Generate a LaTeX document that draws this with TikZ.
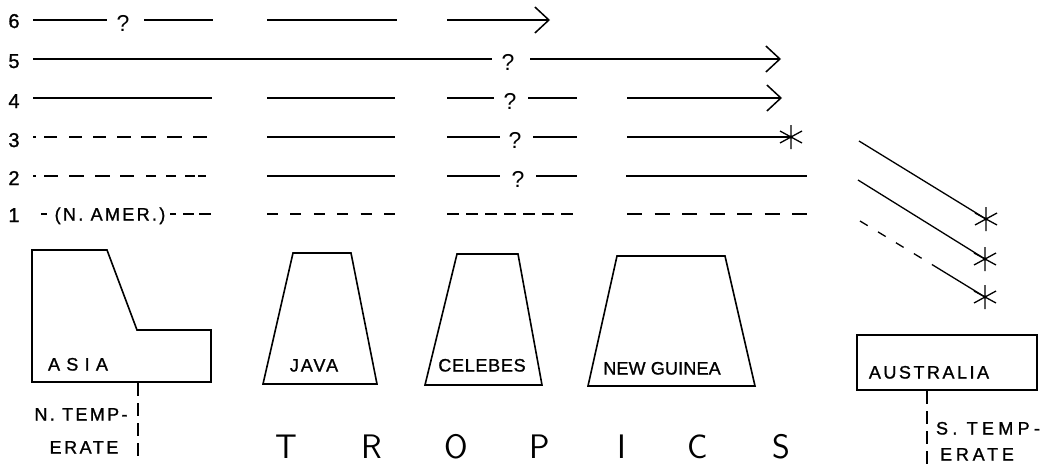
\documentclass[tikz,border=0pt]{standalone}
\usepackage{fontspec}
\setmainfont{Liberation Sans}
\usetikzlibrary{arrows.meta}
\newcommand\lsp[2]{\fontsize{#1}{#1}\selectfont\addfontfeature{LetterSpace=#2,FakeBold=1.2}}
\newcommand\seg[5]{\coordinate (#1a) at (#2,#4); \coordinate (#1b) at (#3,#4); \draw[#5] (#1a) -- (#1b);}
\begin{document}
\begin{tikzpicture}[x=1pt,y=-1pt, line width=1.5pt,
  arr/.style={-{Straight Barb[length=14pt,width=26pt,line width=1.5pt]}},
  lab/.style={anchor=base, inner sep=0pt},
  num/.style={anchor=base, inner sep=0pt, font=\lsp{20}{0}},
  qm/.style={anchor=base, inner sep=0pt, font=\fontsize{23}{23}\selectfont},
  trop/.style={anchor=base, inner sep=0pt, font=\sffamily\fontsize{34}{34}\selectfont},
  isle/.style={line width=1.6pt, line join=miter},
  sep/.style={line width=1.4pt, dash pattern=on 13pt off 7pt},
  ast/.pic={\draw[line width=1.3pt] (0,-12)--(0,12) (-11,-6)--(11,6) (-11,6)--(11,-6);}]
\useasboundingbox (0,0) rectangle (1046,466);
% row numbers
\node[num] (n6) at (14,28) {6};
\node[num] (n5) at (14,68) {5};
\node[num] (n4) at (14,108) {4};
\node[num] (n3) at (14,147) {3};
\node[num] (n2) at (14,185) {2};
\node[num] (n1) at (14,222) {1};
% row 6
\seg{r6s1}{33}{107}{20}{}
\node[qm] (q6) at (123,31) {?};
\seg{r6s2}{144}{213}{20}{}
\seg{r6s3}{267}{397}{20}{}
\seg{r6s4}{447}{550}{20}{arr}
% row 5
\seg{r5s1}{33}{492}{59}{}
\node[qm] (q5) at (508,70) {?};
\seg{r5s2}{530}{781}{59}{arr}
% row 4
\seg{r4s1}{33}{212}{98}{}
\seg{r4s2}{267}{395}{98}{}
\seg{r4s3}{447}{494}{98}{}
\node[qm] (q4) at (510,109) {?};
\seg{r4s4}{528}{577}{98}{}
\seg{r4s5}{627}{782}{98}{arr}
% row 3
\seg{r3s1}{33}{212}{137}{dash pattern=on 3pt off 8pt on 13pt off 12pt on 13pt off 11pt on 13pt off 11pt on 14pt off 10pt on 15pt off 11pt on 15pt off 11pt on 14pt off 12pt}
\seg{r3s2}{267}{395}{137}{}
\seg{r3s3}{447}{500}{137}{}
\node[qm] (q3) at (515,148) {?};
\seg{r3s4}{533}{577}{137}{}
\seg{r3s5}{627}{791}{137}{}
\pic at (r3s5b) {ast};
% row 2
\seg{r2s1}{33}{212}{176}{dash pattern=on 3pt off 8pt on 14pt off 11pt on 15pt off 11pt on 15pt off 10pt on 14pt off 12pt on 10pt off 10pt on 10pt off 9pt on 10pt}
\seg{r2s2}{267}{395}{176}{}
\seg{r2s3}{447}{500}{176}{}
\node[qm] (q2) at (518,187) {?};
\seg{r2s4}{536}{577}{176}{}
\seg{r2s5}{626}{807}{176}{}
% row 1
\seg{r1s0}{41}{47}{214}{}
\node[lab, font=\lsp{18}{13}] (namer) at (110,220.5) {(N. AMER.)};
\seg{r1s1}{170}{211}{214}{dash pattern=on 6pt off 7pt on 11pt off 5pt on 12pt}
\seg{r1s2}{267}{395}{214}{dash pattern=on 11pt off 12.4pt}
\seg{r1s3}{447}{573}{214}{dash pattern=on 12pt off 7pt}
\seg{r1s4}{627}{807}{214}{dash pattern=on 15pt off 12.5pt}
% Australia diagonals
\coordinate (d1a) at (859,141); \coordinate (d1b) at (986,219);
\coordinate (d2a) at (858,180); \coordinate (d2b) at (985,259);
\coordinate (d3a) at (860,221); \coordinate (d3m) at (936,267); \coordinate (d3b) at (985,297);
\draw[line width=1.3pt] (d1a) -- (d1b);
\draw[line width=1.3pt] (d2a) -- (d2b);
\draw[line width=1.3pt, dash pattern=on 9pt off 12pt] (d3a) -- (d3m);
\draw[line width=1.3pt] (d3m) -- (d3b);
\pic at (d1b) {ast};
\pic at (d2b) {ast};
\pic at (d3b) {ast};
% islands
\draw[isle] (32,250) -- (107,250) -- (137,330) -- (211,330) -- (211,382) -- (32,382) -- cycle;
\draw[isle] (293,253) -- (351,253) -- (377,384) -- (263,384) -- cycle;
\draw[isle] (457,254) -- (518,254) -- (542,385) -- (425,385) -- cycle;
\draw[isle] (617,256) -- (725,256) -- (755,386) -- (588,386) -- cycle;
\draw[isle] (857,335) rectangle (1037,390);
\node[lab, font=\lsp{18}{35}] (asia) at (78,370.5) {ASIA};
\node[lab, font=\lsp{18}{11}] (java) at (314,371.5) {JAVA};
\node[lab, font=\lsp{18}{4}] (cel) at (482,371.5) {CELEBES};
\node[lab, font=\lsp{18}{1}] (ng) at (662,374.5) {NEW GUINEA};
\node[lab, font=\lsp{18}{14}] (aus) at (929,378.5) {AUSTRALIA};
% zones
\coordinate (nt1) at (138,383); \coordinate (nt2) at (138,457);
\draw[sep] (nt1) -- (nt2);
\coordinate (st1) at (927,391); \coordinate (st2) at (927,466);
\draw[sep] (st1) -- (st2);
\node[lab, font=\lsp{18}{13}] (ntemp) at (81,420.5) {N. TEMP-};
\node[lab, font=\lsp{18}{14}] (nerate) at (84,453.5) {ERATE};
\node[lab, font=\lsp{18}{24}] (stemp) at (988,434.5) {S. TEMP-};
\node[lab, font=\lsp{18}{21}] (serate) at (977,460.5) {ERATE};
% tropics
\node[trop] (tT) at (286,458) {T};
\node[trop] (tR) at (372,458) {R};
\node[trop] (tO) at (456,458) {O};
\node[trop] (tP) at (540,458) {P};
\node[trop] (tI) at (622,458) {I};
\node[trop] (tC) at (698,458) {C};
\node[trop] (tS) at (781,458) {S};
\end{tikzpicture}
\end{document}
